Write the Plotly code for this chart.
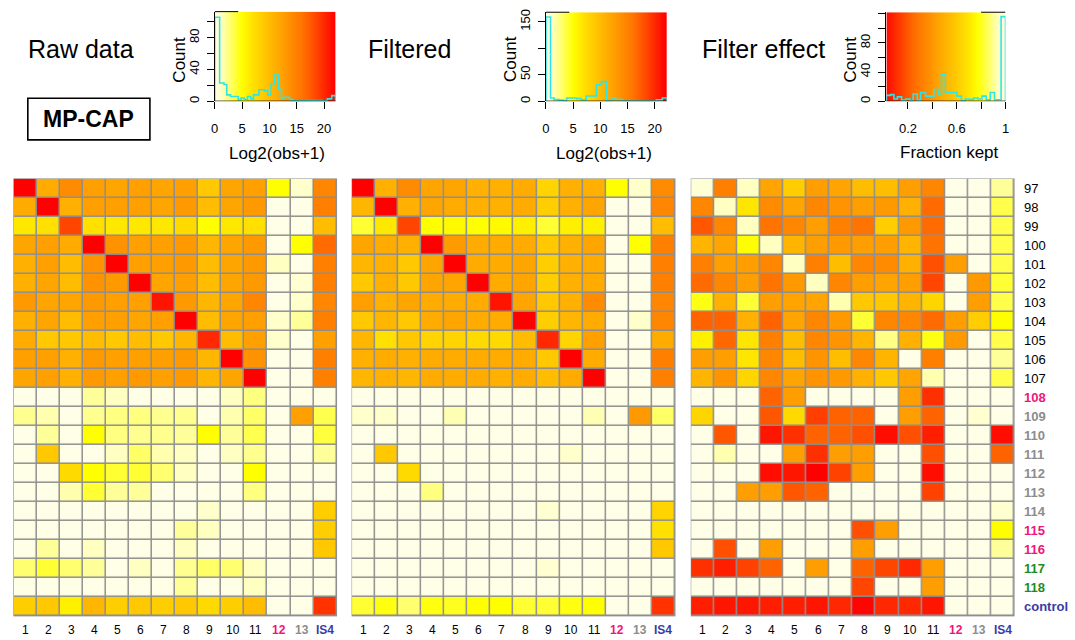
import numpy as np
import plotly.graph_objects as go

W, H = 1075, 640

# ---------------- data ----------------
row_labels = ["97", "98", "99", "100", "101", "102", "103", "104", "105", "106", "107",
              "108", "109", "110", "111", "112", "113", "114", "115", "116", "117", "118", "control"]
col_labels = ["1", "2", "3", "4", "5", "6", "7", "8", "9", "10", "11", "12", "13", "IS4"]

# Raw data, log2(obs+1)
raw = [
    [22, 11.5, 14, 12.5, 12, 12.5, 12, 12.5, 9, 12, 12.5, 5, 1, 14.5],
    [11.5, 22, 11, 12.5, 12.5, 12.5, 12, 13, 10, 12, 13, 0, 0, 15],
    [6.5, 7, 18.5, 7, 6.5, 6.5, 6.5, 7.5, 5, 6.5, 7, 0, 0, 10],
    [12, 12.5, 11.5, 22, 13.5, 12.5, 12.5, 13, 10.5, 12, 13, 0, 5, 16.5],
    [11, 12.5, 10, 13.5, 22, 12.5, 12.5, 13, 10, 12, 13, 1.2, 0, 15],
    [11, 12, 10, 13.5, 13, 22, 12, 12.5, 10, 12, 13, 0, 0.8, 15],
    [13, 12, 12, 13, 12.5, 12.5, 21, 13, 10.5, 12, 14.5, 0, 1, 14.5],
    [11, 12, 10, 12.5, 12.5, 12, 12.5, 22, 10, 12, 12.5, 1, 2, 15],
    [11.5, 9, 9, 10, 9, 10, 9, 10.5, 20, 10, 12.5, 1, 0, 12.5],
    [12.5, 12.5, 11, 13, 12.5, 12.5, 12.5, 13, 10.5, 22, 13.5, 0, 0, 15],
    [12, 12.5, 11, 13, 12.5, 13, 12.5, 13, 10.5, 12, 22, 0, 0, 15],
    [0, 0, 0, 2, 1.2, 0, 0, 0, 0, 1.2, 2.5, 0, 0, 0],
    [2.2, 1.6, 0, 2.2, 2.5, 2.5, 2.2, 2.2, 0, 1.6, 3, 0, 12.5, 3.5],
    [0, 2, 0, 5, 2.5, 2.2, 2.2, 2, 5, 2, 3.5, 0, 0, 3.8],
    [0, 9, 0, 0, 1.2, 3, 1.6, 1.2, 0, 1.2, 2.2, 0, 0, 2],
    [0, 0, 7.5, 5, 4, 4, 2.8, 1.2, 0, 0, 5, 0, 0, 0],
    [0, 0, 1.6, 4, 2, 2, 0, 0, 0, 0, 2.5, 0, 0, 0],
    [0, 0, 0, 0, 0, 0, 0, 0, 1, 0, 0, 0, 0, 8.5],
    [0, 0, 0, 0, 0, 0, 0, 2, 1.2, 0, 0, 0, 0, 8.5],
    [0, 2, 0, 1.2, 0, 0, 0, 1.2, 0, 0, 0, 0, 0, 9],
    [2.8, 4, 2.8, 2, 0, 1.2, 0, 2.2, 3, 2.8, 1.2, 0, 0, 0],
    [0, 0, 0, 0, 0, 0, 0, 2, 0, 0, 1.2, 0, 0, 0],
    [8.5, 9, 6, 10.5, 8.5, 9, 8.5, 9, 7.5, 8.5, 10, 0, 0, 19.5],
]

# Filtered data, log2(obs+1)
filtered = [
    [22, 11, 14, 12, 12, 11, 11, 11.5, 8, 11, 11, 5, 1, 14],
    [10.5, 22, 11, 12, 11.5, 11, 11, 11.5, 8.5, 11, 12, 0, 0, 14.5],
    [4, 6.5, 18.5, 5, 5.3, 5, 5.3, 6, 4, 6, 6, 0, 0, 10],
    [12, 11.5, 11, 22, 12.8, 11.5, 11.5, 11.5, 9, 11, 12, 0, 5, 15],
    [10.5, 11, 9, 12, 22, 11.5, 11.5, 12, 8.5, 11, 11.5, 0, 0, 15],
    [9, 11, 9, 12, 12, 22, 11.5, 12, 8.5, 11, 11.5, 0, 0, 15],
    [12.5, 11, 12, 11.5, 11.5, 11.5, 21, 12, 9, 11, 14, 0, 0, 14.5],
    [9, 10.5, 9, 11.5, 12, 11.5, 11.5, 22, 8.5, 10.5, 11.5, 0, 1, 14.5],
    [10.5, 7, 9, 8, 8, 7.5, 7.5, 10, 20, 8, 12.5, 0, 0, 11.5],
    [11, 11.5, 11, 11.5, 11.5, 11.5, 11.5, 11.5, 9, 22, 11.5, 0, 0, 15],
    [10.5, 11, 10.5, 11.5, 11.5, 11.5, 11, 11.5, 10, 11.5, 22, 0, 0, 15],
    [0, 0, 0, 0, 0, 0, 0, 0, 0, 0, 0, 0, 0, 0],
    [1, 1, 0, 0, 1.5, 0, 0, 0, 0, 0, 1.5, 0, 13, 3],
    [0, 0, 0, 0, 0, 0, 0, 0, 0, 0, 0, 0, 0, 0],
    [0, 9, 0, 0, 0, 0, 0, 0, 0, 1, 0, 0, 0, 0],
    [0, 0, 7.5, 0, 0, 0, 0, 0, 0, 0, 0, 0, 0, 0],
    [0, 0, 0, 2.5, 0, 0, 0, 0, 0, 0, 0, 0, 0, 0],
    [0, 0, 0, 0, 0, 0, 0, 0, 0.8, 0, 0, 0, 0, 8],
    [0, 0, 0, 0, 0, 0, 0, 0, 0, 0, 0, 0, 0, 7],
    [0, 0, 0, 0, 0, 0, 0, 0, 0, 0, 0, 0, 0, 9],
    [0, 0, 0, 0, 0, 0, 0, 0, 0.8, 0, 0, 0, 0, 0],
    [0, 0, 0, 0, 0, 0, 0, 0, 0, 0, 0, 0, 0, 0],
    [4, 4.7, 2.8, 4.7, 4.4, 5, 5, 4, 4, 4.7, 5, 0, 0, 19.5],
]

# Filter effect: fraction kept
fraction_kept = [
    [0.97, 0.32, 0.945, 0.45, 0.61, 0.43, 0.45, 0.55, 0.55, 0.43, 0.34, 1, 1, 0.91],
    [0.34, 0.945, 0.70, 0.36, 0.45, 0.34, 0.39, 0.43, 0.41, 0.5, 0.25, 1, 1, 0.84],
    [0.2, 0.34, 0.945, 0.27, 0.34, 0.43, 0.32, 0.27, 0.61, 0.41, 0.25, 1, 1, 0.84],
    [0.52, 0.45, 0.77, 0.945, 0.52, 0.43, 0.41, 0.43, 0.43, 0.52, 0.27, 1, 1, 0.84],
    [0.32, 0.43, 0.43, 0.34, 0.945, 0.32, 0.55, 0.34, 0.36, 0.5, 0.18, 0.43, 1, 0.84],
    [0.25, 0.34, 0.43, 0.27, 0.41, 0.945, 0.34, 0.43, 0.45, 0.43, 0.16, 1, 0.41, 0.82],
    [0.79, 0.5, 0.82, 0.43, 0.45, 0.45, 0.93, 0.59, 0.59, 0.52, 0.64, 1, 0.43, 0.84],
    [0.23, 0.23, 0.5, 0.23, 0.45, 0.34, 0.41, 0.82, 0.34, 0.34, 0.25, 0.43, 0.61, 0.77],
    [0.73, 0.24, 0.70, 0.32, 0.55, 0.34, 0.39, 0.52, 0.89, 0.5, 0.79, 0.41, 1, 0.84],
    [0.43, 0.43, 0.70, 0.34, 0.55, 0.39, 0.55, 0.34, 0.52, 1, 0.32, 1, 1, 0.91],
    [0.52, 0.39, 0.64, 0.34, 0.45, 0.39, 0.41, 0.5, 0.59, 0.45, 0.93, 1, 1, 0.84],
    [1, 1, 1, 0.23, 0.43, 1, 1, 1, 1, 0.43, 0.11, 1, 1, 1],
    [0.64, 1, 1, 0.2, 0.66, 0.14, 0.23, 0.23, 1, 0.43, 0.23, 1, 0.96, 1],
    [1, 0.2, 1, 0.05, 0.11, 0.23, 0.23, 0.18, 0.03, 0.18, 0.07, 1, 1, 0.03],
    [1, 0.93, 1, 1, 0.43, 0.11, 0.43, 0.43, 1, 1, 0.18, 1, 1, 0.23],
    [1, 1, 1, 0.03, 0.05, 0.0, 0.15, 0.43, 1, 1, 0.03, 1, 1, 1],
    [1, 1, 0.43, 0.43, 0.2, 0.23, 1, 1, 1, 1, 0.15, 1, 1, 1],
    [1, 1, 1, 1, 1, 1, 1, 1, 1, 1, 1, 1, 1, 0.96],
    [1, 1, 1, 1, 1, 1, 1, 0.18, 0.43, 1, 1, 1, 1, 0.77],
    [1, 0.18, 1, 0.43, 1, 1, 1, 0.43, 1, 1, 1, 1, 1, 0.91],
    [0.11, 0.07, 0.15, 0.23, 1, 0.43, 1, 0.23, 0.16, 0.09, 0.43, 1, 1, 1],
    [1, 1, 1, 1, 1, 1, 1, 0.16, 1, 1, 0.43, 1, 1, 1],
    [0.07, 0.05, 0.05, 0.07, 0.07, 0.05, 0.09, 0.01, 0.09, 0.09, 0.05, 1, 1, 1],
]

# Histograms (bin edges and counts)
raw_hist_edges = [0, 0.9, 1.7, 2.2, 2.9, 3.7, 4.3, 4.8, 5.4, 6.0, 6.6, 7.1, 8.1, 9.1, 9.7,
                  10.3, 10.9, 11.7, 12.2, 12.7, 13.7, 14.3, 16.7, 17.3, 18.5, 19.7, 20.6, 21.4, 22.1]
raw_hist_counts = [106, 23, 21, 8, 6, 6, 2, 4, 2.5, 6, 3, 8, 14.5, 13, 8, 22, 33, 15, 4, 5,
                   2, 0.5, 1, 1, 1, 0.5, 3, 7]

filt_hist_edges = [0, 0.85, 1.5, 2.4, 3.2, 3.8, 5.6, 6.5, 7.4, 9.3, 10.2, 11.1, 12.1, 12.8,
                   14.1, 20.3, 21.4, 22.2]
filt_hist_counts = [159, 6, 3, 2, 1, 6, 5, 2.5, 10, 31, 37, 0.5, 6, 3, 0.5, 2.5, 6]

frac_hist_edges = [0.023, 0.058, 0.085, 0.113, 0.148, 0.181, 0.216, 0.243, 0.276, 0.303, 0.344,
                   0.412, 0.447, 0.475, 0.507, 0.602, 0.638, 0.670, 0.706, 0.739, 0.774, 0.807,
                   0.842, 0.875, 0.910, 0.964, 1.0]
frac_hist_counts = [8, 9, 3, 6, 1.5, 3, 0.5, 10, 1.5, 12, 7, 16, 10, 37, 12, 7, 0.5, 3, 2.5,
                    4.5, 3, 7, 2, 12, 2, 116]

# ---------------- styles ----------------
FONT = "Liberation Sans, Arial, Helvetica, sans-serif"
PINK, GRAY, GREEN, BLUE = "#F0157A", "#8C8C8C", "#1E8C1E", "#3B3BA6"
GRID = "#8f8f8f"
CYAN = "#2EE6E6"

row_colors = ["black"] * 11 + [PINK] + [GRAY] * 6 + [PINK, PINK, GREEN, GREEN, BLUE]
row_bold = [False] * 11 + [True] * 12
col_colors = ["black"] * 11 + [PINK, GRAY, BLUE]
col_bold = [False] * 11 + [True] * 3

LOGMAX = 22.0
stops = [(0, "#FFFFE8"), (1, "#FFFFCC"), (2, "#FFFF99"), (3, "#FFFF66"), (4, "#FFFF33"),
         (5, "#FFFF00"), (7, "#FFE000"), (9, "#FFC800"), (11, "#FFB000"), (12, "#FFA500"),
         (14, "#FF8C00"), (16, "#FF7400"), (18, "#FF5000"), (20, "#FF2800"), (22, "#FF0000")]
cs = [[v / LOGMAX, c] for v, c in stops]
cs_rev = [[1 - p, c] for p, c in reversed(cs)]


def px(x):
    return x / W


def py(y):
    return 1 - y / H


fig = go.Figure()

# ---------------- heatmaps ----------------
hm_x = [(9.3, 335.7), (350.0, 676.7), (691.7, 1018.3)]
hm_y = (176.7, 618.3)
mats = [(raw, cs, 0, LOGMAX), (filtered, cs, 0, LOGMAX), (fraction_kept, cs_rev, 0, 1)]
axis_ids = ["", "2", "3"]
nrow, ncol = len(row_labels), len(col_labels)
pad = 0.03
for k, (m, c, zmin, zmax) in enumerate(mats):
    aid = axis_ids[k]
    fig.add_trace(go.Heatmap(z=m, x=list(range(ncol)), y=list(range(nrow)), colorscale=c,
                             zmin=zmin, zmax=zmax, showscale=False, xgap=1.5, ygap=1.5,
                             hoverinfo="skip", xaxis="x" + aid, yaxis="y" + aid))
    fig.update_layout(**{
        "xaxis" + aid: dict(domain=[px(hm_x[k][0]), px(hm_x[k][1])],
                            range=[-0.5 - pad, ncol - 0.5 + pad], visible=False,
                            anchor="y" + aid),
        "yaxis" + aid: dict(domain=[py(hm_y[1]), py(hm_y[0])],
                            range=[nrow - 0.5 + pad, -0.5 - pad], visible=False,
                            anchor="x" + aid),
    })
    fig.add_shape(type="rect", xref="x" + aid, yref="y" + aid, x0=-0.5, x1=ncol - 0.5,
                  y0=-0.5, y1=nrow - 0.5, fillcolor=GRID, line=dict(color=GRID, width=1.5),
                  layer="below")
    # column labels
    for j, lab in enumerate(col_labels):
        txt = "<b>%s</b>" % lab if col_bold[j] else lab
        fig.add_annotation(x=j, xref="x" + aid, y=py(632), yref="paper", text=txt,
                           showarrow=False, xanchor="center", yanchor="middle",
                           font=dict(size=12, color=col_colors[j], family=FONT))

# row labels (right of the third heatmap)
for i, lab in enumerate(row_labels):
    txt = "<b>%s</b>" % lab if row_bold[i] else lab
    fig.add_annotation(x=px(1026), xref="paper", y=i, yref="y3", text=txt, showarrow=False,
                       xanchor="left", yanchor="middle",
                       font=dict(size=13, color=row_colors[i], family=FONT))

# ---------------- histograms ----------------
hists = [
    dict(edges=raw_hist_edges, counts=raw_hist_counts, x=(212.3, 334.0), top=8.7, xr=[0, 22.1],
         ymax=113, xt=[0, 5, 10, 15, 20], xtt=["0", "5", "10", "15", "20"],
         yt=[0, 20, 40, 60, 80, 100], ytt=["0", "", "40", "", "80", ""], cs=cs, zr=(0, LOGMAX),
         xlabel="Log2(obs+1)", xlab_pos=(275.5, 151.7), count_x=176.7, light=(0, 4.3)),
    dict(edges=filt_hist_edges, counts=filt_hist_counts, x=(546.0, 667.7), top=9.3, xr=[0, 22.2],
         ymax=168, xt=[0, 5, 10, 15, 20], xtt=["0", "5", "10", "15", "20"],
         yt=[0, 50, 100, 150], ytt=["0", "50", "", "150"], cs=cs, zr=(0, LOGMAX),
         xlabel="Log2(obs+1)", xlab_pos=(605, 151.7), count_x=510.5, light=(0, 4.3)),
    dict(edges=frac_hist_edges, counts=frac_hist_counts, x=(889.0, 1009.0), top=9.3,
         xr=[0.023, 1.0], ymax=122, xt=[0.2, 0.4, 0.6, 0.8, 1.0],
         xtt=["0.2", "", "0.6", "", "1"], yt=[0, 20, 40, 60, 80, 100, 120],
         ytt=["0", "", "40", "", "80", "", ""], cs=cs_rev, zr=(0, 1),
         xlabel="Fraction kept", xlab_pos=(952.5, 150.7), count_x=852.5, light=(0.8, 1.0)),
]
for k, h in enumerate(hists):
    aid = str(4 + k)
    xa, ya = "x" + aid, "y" + aid
    # colour gradient background (palette legend)
    g_edges = np.linspace(h["xr"][0], h["xr"][1], 241)
    g_mid = (g_edges[:-1] + g_edges[1:]) / 2
    fig.add_trace(go.Heatmap(z=[list(g_mid)], x=list(g_edges), y=[0, h["ymax"]],
                             colorscale=h["cs"], zmin=h["zr"][0], zmax=h["zr"][1],
                             showscale=False, hoverinfo="skip", xaxis=xa, yaxis=ya))
    e, cnt = h["edges"], h["counts"]
    sx = [e[0]] + list(e[:-1]) + [e[-1]]
    sy = [0] + list(cnt) + [0]
    fig.add_trace(go.Scatter(x=sx, y=sy, mode="lines", line=dict(color=CYAN, width=1.6, shape="hv"),
                             hoverinfo="skip", showlegend=False, xaxis=xa, yaxis=ya))
    fig.update_layout(**{
        "xaxis" + aid: dict(domain=[px(h["x"][0]), px(h["x"][1])], range=h["xr"], anchor=ya,
                            showgrid=False, zeroline=False, showline=False, ticks="outside",
                            ticklen=7, tickwidth=1, tickcolor="black", tickvals=h["xt"],
                            ticktext=h["xtt"], tickfont=dict(size=13, color="black", family=FONT),
                            ticklabelstandoff=8),
        "yaxis" + aid: dict(domain=[py(99), py(h["top"])], range=[0, h["ymax"]], anchor=xa,
                            showgrid=False, zeroline=False, showline=True, linecolor="black",
                            linewidth=1, ticks="outside", ticklen=7, tickwidth=1,
                            tickcolor="black", tickvals=h["yt"], ticktext=h["ytt"],
                            tickangle=-90, tickfont=dict(size=13, color="black", family=FONT),
                            ticklabelstandoff=3),
    })
    # bottom box line seen through the gradient, and the top line over the light part
    fig.add_shape(type="line", xref=xa + " domain", yref=ya, x0=0, x1=1, y0=0, y1=0,
                  line=dict(color="rgba(40,20,0,0.8)", width=1.5), layer="above")
    fig.add_shape(type="line", xref=xa, yref=ya + " domain", x0=h["light"][0], x1=h["light"][1],
                  y0=1, y1=1, line=dict(color="black", width=1), layer="above")
    fig.add_annotation(x=px(h["xlab_pos"][0]), y=py(h["xlab_pos"][1]), xref="paper", yref="paper",
                       text=h["xlabel"], showarrow=False, xanchor="center", yanchor="middle",
                       font=dict(size=17, color="black", family=FONT))
    fig.add_annotation(x=px(h["count_x"]), y=py(56.7), xref="paper", yref="paper", text="Count",
                       textangle=-90, showarrow=False, xanchor="center", yanchor="middle",
                       font=dict(size=17, color="black", family=FONT))

# ---------------- titles ----------------
for txt, x0 in [("Raw data", 22), ("Filtered", 365), ("Filter effect", 701)]:
    fig.add_annotation(x=px(x0), y=py(46), xref="paper", yref="paper", text=txt, showarrow=False,
                       xanchor="left", yanchor="middle", font=dict(size=25, color="black", family=FONT))

fig.add_shape(type="rect", xref="paper", yref="paper", x0=px(24), x1=px(147), y0=py(138), y1=py(96),
              line=dict(color="black", width=1.6), fillcolor="rgba(0,0,0,0)")
fig.add_annotation(x=px(85.5), y=py(117), xref="paper", yref="paper", text="<b>MP-CAP</b>",
                   showarrow=False, xanchor="center", yanchor="middle",
                   font=dict(size=23, color="black", family=FONT))

fig.update_layout(width=W, height=H, margin=dict(l=0, r=0, t=0, b=0), paper_bgcolor="white",
                  plot_bgcolor="white", showlegend=False, font=dict(family=FONT))

fig.write_html("out.html", config={"displayModeBar": False},
               post_script="document.body.style.margin='0';document.body.style.padding='0';"
                           "document.body.style.overflow='hidden';")
